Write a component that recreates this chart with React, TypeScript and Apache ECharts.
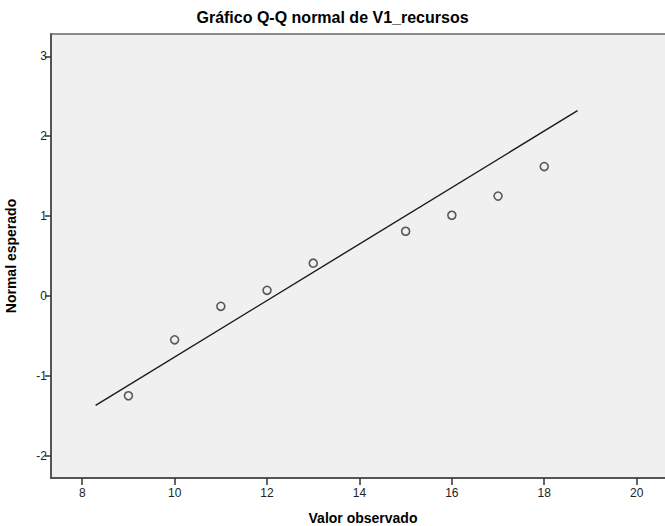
import React, { useEffect, useRef } from "react";
import * as echarts from "echarts";

const observed = [9, 10, 11, 12, 13, 15, 16, 17, 18];
const expectedNormal = [-1.25, -0.55, -0.13, 0.07, 0.41, 0.81, 1.01, 1.25, 1.62];
const refLineX = [8.29, 18.72];
const refLineY = [-1.37, 2.32];
const xTicks = [8, 10, 12, 14, 16, 18, 20];
const yTicks = [-2, -1, 0, 1, 2, 3];

export default function App() {
  const ref = useRef<HTMLDivElement>(null);
  useEffect(() => {
    const chart = echarts.init(ref.current!, null, { renderer: "svg" });
    const font = "'Liberation Sans', Arial, sans-serif";
    chart.setOption({
      animation: false,
      backgroundColor: "#ffffff",
      title: {
        text: "Gráfico Q-Q normal de V1_recursos",
        left: "center",
        top: 4,
        textStyle: { fontFamily: font, fontSize: 16, fontWeight: "bold", color: "#000" },
      },
      grid: {
        left: 51,
        top: 34,
        right: -10,
        bottom: 48,
        show: true,
        outerBoundsMode: "none",
        containLabel: false,
        backgroundColor: "#f0f0f0",
        borderColor: "#666",
        borderWidth: 1.5,
      },
      xAxis: {
        type: "value",
        min: 7.324,
        max: 20.83,
        name: "Valor observado",
        nameLocation: "middle",
        nameGap: 33,
        nameTextStyle: { fontFamily: font, fontSize: 14, fontWeight: "bold", color: "#000" },
        axisLine: { show: true, onZero: false, lineStyle: { color: "#555", width: 2 } },
        axisTick: { show: true, inside: false, customValues: xTicks, length: 7, lineStyle: { color: "#333", width: 1.5 } },
        axisLabel: { customValues: xTicks, fontFamily: font, fontSize: 12, color: "#222", margin: 9 },
        splitLine: { show: false },
      },
      yAxis: {
        type: "value",
        min: -2.28,
        max: 3.28,
        name: "Normal esperado",
        nameLocation: "middle",
        nameGap: 33,
        nameTextStyle: { fontFamily: font, fontSize: 14, fontWeight: "bold", color: "#000" },
        axisLine: { show: true, onZero: false, lineStyle: { color: "#555", width: 2 } },
        axisTick: { show: true, inside: false, customValues: yTicks, length: 6, lineStyle: { color: "#333", width: 1.5 } },
        axisLabel: { customValues: yTicks, fontFamily: font, fontSize: 12, color: "#222", margin: 4 },
        splitLine: { show: false },
      },
      series: [
        {
          type: "line",
          data: refLineX.map((x, i) => [x, refLineY[i]]),
          symbol: "none",
          lineStyle: { color: "#1a1a1a", width: 1.4 },
          silent: true,
          z: 2,
        },
        {
          type: "scatter",
          data: observed.map((x, i) => [x, expectedNormal[i]]),
          symbol: "circle",
          symbolSize: 8,
          itemStyle: { color: "rgba(0,0,0,0)", borderColor: "#333", borderWidth: 1.6 },
          z: 3,
        },
      ],
    });
    return () => chart.dispose();
  }, []);
  return (
    <div
      ref={ref}
      style={{ position: "fixed", left: 0, top: 0, width: 665, height: 526 }}
    />
  );
}
